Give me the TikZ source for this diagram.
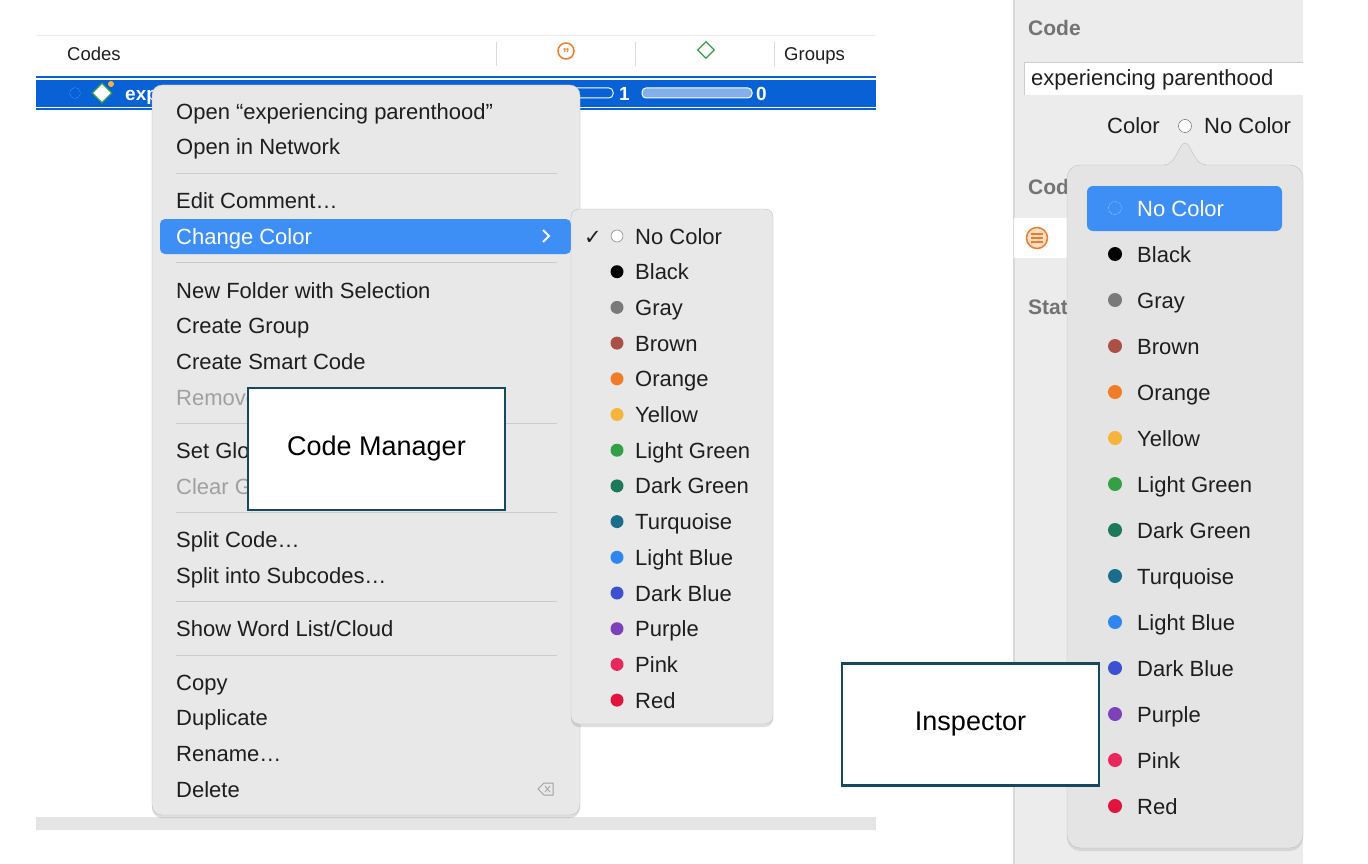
\documentclass[tikz,border=0pt]{standalone}
\usepackage{fontspec}
\setmainfont{Liberation Sans}
\newfontfamily\symfont{DejaVu Sans}
\usetikzlibrary{shapes.geometric,shadows}
\definecolor{selblue}{RGB}{8,98,214}
\definecolor{hiblue}{RGB}{62,143,245}
\definecolor{menubg}{RGB}{232,232,232}
\definecolor{panelbg}{RGB}{236,236,236}
\definecolor{popbg}{RGB}{228,228,228}
\definecolor{teal}{RGB}{22,72,96}
\definecolor{txt}{RGB}{30,30,30}
\definecolor{dimtxt}{RGB}{160,160,160}
\definecolor{cBrown}{RGB}{170,80,70}
\definecolor{cOrange}{RGB}{240,124,40}
\definecolor{cYellow}{RGB}{246,180,58}
\definecolor{cLGreen}{RGB}{52,160,70}
\definecolor{cDGreen}{RGB}{30,120,90}
\definecolor{cTurq}{RGB}{26,110,140}
\definecolor{cLBlue}{RGB}{47,134,240}
\definecolor{cDBlue}{RGB}{60,80,210}
\definecolor{cPurple}{RGB}{125,65,185}
\definecolor{cPink}{RGB}{232,40,90}
\definecolor{cRed}{RGB}{224,20,60}
\definecolor{cGray}{RGB}{122,122,122}
\begin{document}
\begin{tikzpicture}[x=1pt,y=-1pt,
  mitem/.style={anchor=west,inner sep=0pt,text=txt,text height=18pt,text depth=2pt,font=\fontsize{22}{24}\selectfont},
  hdr/.style={anchor=west,inner sep=0pt,text=txt,text height=16pt,text depth=2pt,font=\fontsize{18.5}{20}\selectfont},
  sep/.style={draw=black!20,line width=1pt},
  callout/.style={draw=teal,line width=2.5pt,fill=white,minimum width=257pt,minimum height=122pt,font=\fontsize{27}{30}\selectfont},
  dot/.style={circle,inner sep=0pt,minimum size=13pt}]
\useasboundingbox (0,0) rectangle (1368,864);
\fill[white] (0,0) rectangle (1368,864);
% ---- Code Manager table
\draw[black!8] (36,35) -- (876,35);
\node[hdr] (hcodes) at (67,54) {Codes};
\foreach \x in {496,635,774} \draw[black!15] (\x,42) -- (\x,66);
\node[circle,draw=cOrange,line width=1.5pt,minimum size=16pt,inner sep=0pt,text=cOrange,font=\bfseries\fontsize{14}{14}\selectfont] (hquote) at (566,51) {\raisebox{-1.5pt}{,,}};
\node[diamond,draw=cLGreen,line width=1.3pt,minimum size=17pt,inner sep=0pt] (hdiam) at (706,50) {};
\node[hdr] (hgroups) at (784,54) {Groups};
\draw[selblue,line width=1.5pt] (36,77) -- (876,77);
\fill[selblue] (36,80) rectangle (876,107);
\draw[selblue,line width=1.5pt] (36,109) -- (876,109);
\node[circle,draw=white!70!blue,densely dotted,minimum size=11pt,inner sep=0pt] (rowc) at (75,93) {};
\node[diamond,draw=cLGreen,fill=white,line width=1.2pt,minimum size=20pt,inner sep=0pt] (rowd) at (102,93) {};
\fill[cYellow] (111,84) circle (3pt);
\node[mitem,text=white,font=\bfseries\fontsize{19}{20}\selectfont] (rowt) at (125,93) {exp};
\draw[white,line width=1pt,rounded corners=4pt] (560,88) rectangle (613,98);
\node[mitem,text=white,font=\bfseries\fontsize{19}{20}\selectfont] (one) at (619,93) {1};
\draw[white,fill=white!50!selblue,line width=1pt,rounded corners=4pt] (642,88) rectangle (752,98);
\node[mitem,text=white,font=\bfseries\fontsize{19}{20}\selectfont] (zero) at (756,93) {0};
\fill[black!10] (36,817) rectangle (876,830);
% ---- context menu
\node[draw=black!25,fill=menubg,rounded corners=10pt,minimum width=428pt,minimum height=730pt,drop shadow={opacity=0.25,shadow xshift=0pt,shadow yshift=-3pt}] (menu) at (366,450) {};
\node[mitem] (m1) at (176,112) {Open “experiencing parenthood”};
\node[mitem] (m2) at (176,147) {Open in Network};
\draw[sep] (176,173) -- (557,173);
\node[mitem] (m3) at (176,200) {Edit Comment…};
\fill[hiblue,rounded corners=5pt] (160,219) rectangle (571,254);
\node[mitem,text=white] (m4) at (176,236) {Change Color};
\draw[white,line width=1.8pt] (543,230) -- (549,236) -- (543,242);
\draw[sep] (176,262) -- (557,262);
\node[mitem] (m5) at (176,290) {New Folder with Selection};
\node[mitem] (m6) at (176,325) {Create Group};
\node[mitem] (m7) at (176,361) {Create Smart Code};
\node[mitem,text=dimtxt] (m8) at (176,397) {Remove};
\draw[sep] (176,423) -- (557,423);
\node[mitem] (m9) at (176,450) {Set Glo};
\node[mitem,text=dimtxt] (m10) at (176,486) {Clear G};
\draw[sep] (176,512) -- (557,512);
\node[mitem] (m11) at (176,539) {Split Code…};
\node[mitem] (m12) at (176,575) {Split into Subcodes…};
\draw[sep] (176,601) -- (557,601);
\node[mitem] (m13) at (176,628) {Show Word List/Cloud};
\draw[sep] (176,655) -- (557,655);
\node[mitem] (m14) at (176,682) {Copy};
\node[mitem] (m15) at (176,717) {Duplicate};
\node[mitem] (m16) at (176,753) {Rename…};
\node[mitem] (m17) at (176,789) {Delete};
\draw[dimtxt,line width=1pt,line join=round] (538,789) -- (544,783) -- (553,783) -- (553,795) -- (544,795) -- cycle;
\draw[dimtxt,line width=0.8pt] (545,786) -- (550,792) (550,786) -- (545,792);
\node[callout] (cm) at (376.5,449) {Code Manager};
% ---- submenu
\node[draw=black!25,fill=menubg,rounded corners=8pt,minimum width=202pt,minimum height=515pt,drop shadow={opacity=0.25,shadow xshift=0pt,shadow yshift=-3pt}] (sub) at (672,466.5) {};
\node[mitem,font=\symfont\bfseries\fontsize{21}{22}\selectfont] (chk) at (584,236) {✓};
\foreach \n/\c [count=\k from 0] in {No Color/white,Black/black,Gray/cGray,Brown/cBrown,Orange/cOrange,Yellow/cYellow,Light Green/cLGreen,Dark Green/cDGreen,Turquoise/cTurq,Light Blue/cLBlue,Dark Blue/cDBlue,Purple/cPurple,Pink/cPink,Red/cRed}{
  \pgfmathsetmacro{\yy}{236+35.7*\k}
  \ifnum\k=0
    \node[dot,draw=black!60,fill=white,minimum size=12pt] (sd\k) at (617,\yy) {};
  \else
    \node[dot,fill=\c] (sd\k) at (617,\yy) {};
  \fi
  \node[mitem] (st\k) at (635,\yy) {\n};
}
% ---- inspector panel
\fill[panelbg] (1014,0) rectangle (1303,864);
\draw[black!15,line width=1.5pt] (1014,0) -- (1014,864);
\node[mitem,text=black!55,font=\bfseries\fontsize{21}{24}\selectfont] (icode) at (1028,28) {Code};
\fill[white] (1024,62) rectangle (1303,95);
\draw[black!20] (1024,95) -- (1024,62) -- (1303,62);
\node[mitem] (ifield) at (1031,78) {experiencing parenthood};
\node[mitem] (icolor) at (1107,126) {Color};
\node[dot,draw=black!70,fill=white,minimum size=13pt] (icirc) at (1185,126) {};
\node[mitem] (inocol) at (1204,126) {No Color};
\node[mitem,text=black!55,font=\bfseries\fontsize{21}{24}\selectfont] (icod2) at (1028,186) {Cod};
\fill[white] (1014,218) rectangle (1080,258);
\node[circle,draw=cOrange,fill=cOrange!25,line width=1.5pt,minimum size=21pt,inner sep=0pt] (iicon) at (1037,238) {};
\foreach \dy in {-4,0,4} \draw[cOrange,line width=1.5pt] (1031,238+\dy) -- (1043,238+\dy);
\node[mitem,text=black!55,font=\bfseries\fontsize{21}{24}\selectfont] (istat) at (1028,306) {Stat};
% popover
\draw[black!25,fill=popbg,rounded corners=13pt,drop shadow={opacity=0.2,shadow xshift=0pt,shadow yshift=-3pt}] (1067,165) rectangle (1303,848);
\fill[popbg] (1164,166) .. controls (1176,166) and (1179,143) .. (1185,143) .. controls (1191,143) and (1194,166) .. (1206,166) -- cycle;
\draw[black!25] (1164,165) .. controls (1176,165) and (1179,143) .. (1185,143) .. controls (1191,143) and (1194,165) .. (1206,165);
\fill[hiblue,rounded corners=6pt] (1087,186) rectangle (1282,231);
\foreach \n/\c [count=\k from 0] in {No Color/white,Black/black,Gray/cGray,Brown/cBrown,Orange/cOrange,Yellow/cYellow,Light Green/cLGreen,Dark Green/cDGreen,Turquoise/cTurq,Light Blue/cLBlue,Dark Blue/cDBlue,Purple/cPurple,Pink/cPink,Red/cRed}{
  \pgfmathsetmacro{\yy}{208+46*\k}
  \ifnum\k=0
    \node[dot,draw=white,densely dotted,minimum size=13pt] (pd\k) at (1115,\yy) {};
    \node[mitem,text=white] (pt\k) at (1137,\yy) {\n};
  \else
    \node[dot,fill=\c,minimum size=14pt] (pd\k) at (1115,\yy) {};
    \node[mitem] (pt\k) at (1137,\yy) {\n};
  \fi
}
\node[callout] (insp) at (970.5,724.5) {Inspector};
\end{tikzpicture}
\end{document}
